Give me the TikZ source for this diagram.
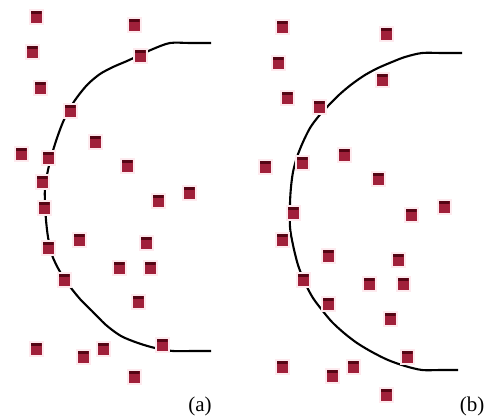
\documentclass[tikz,border=0pt]{standalone}
\usepackage{fontspec}
\setmainfont{Liberation Serif}
\usetikzlibrary{positioning}
\definecolor{sqRed}{RGB}{160,32,58}
\definecolor{sqDark}{RGB}{85,5,20}
\definecolor{sqHalo}{RGB}{253,234,238}
\tikzset{
    % Points
    sample/.style={rectangle, inner sep=0pt, minimum width=11pt, minimum height=12pt,
                   fill=sqRed, preaction={draw=sqHalo, line width=4pt},
                   path picture={\fill[sqDark] (path picture bounding box.north west)
                       rectangle ([yshift=-3pt]path picture bounding box.north east);}},
    % Boundary & Labels
    boundary/.style={draw=black, line width=2.1pt, line join=round},
    panelLbl/.style={anchor=base, inner sep=0pt, font=\fontsize{21}{24}\selectfont}
}

\begin{document}
\begin{tikzpicture}[x=1pt, y=-1pt]
\useasboundingbox (0,0) rectangle (492,416);

% (a)
\draw[boundary] plot[smooth] coordinates {
    (211,43) (190,43) (170,43) (153,49) (140,55) (127,61) (113,67) (100,74)
    (88,84) (78,96) (70,108) (63,122) (57,138) (52,154) (48,170) (45,187)
    (45,203) (46,220) (48,237) (52,255) (59,270) (68,284) (80,299) (92,311)
    (106,325) (121,336) (138,343) (155,348) (173,351) (192,351) (211,351)};

\foreach \px/\py [count=\i] in {36/17, 134/25, 32/52, 140/56, 40/88, 70/111, 95/142,
    21/154, 48/158, 127/166, 42/182, 189/193, 158/201, 44/208, 79/240, 48/248,
    146/243, 119/268, 150/268, 64/280, 138/302, 36/349, 103/349, 83/357,
    162/345, 134/377}
    \node[sample] (a\i) at (\px,\py) {};

\node[panelLbl] (laba) at (200,411) {(a)};

% (b)
\draw[boundary] plot[smooth] coordinates {
    (462,53) (442,53) (422,53) (405,57) (392,62) (378,68) (365,75) (352,84)
    (340,94) (328,106) (318,117) (310,128) (303,142) (297,157) (293,172)
    (291,187) (290,203) (290,227) (293,245) (298,265) (305,283) (313,298)
    (322,310) (332,322) (344,333) (357,343) (372,352) (388,360) (405,366)
    (422,370) (440,370) (458,370)};

\foreach \px/\py [count=\i] in {282/27, 386/34, 278/63, 382/80, 287/98, 319/107,
    344/155, 265/167, 302/163, 378/179, 444/207, 411/215, 293/213, 282/240,
    328/256, 398/260, 303/280, 369/284, 403/284, 328/304, 390/319, 407/357,
    282/367, 353/367, 332/376, 386/395}
    \node[sample] (b\i) at (\px,\py) {};

\node[panelLbl] (labb) at (472,411) {(b)};

\end{tikzpicture}
\end{document}
